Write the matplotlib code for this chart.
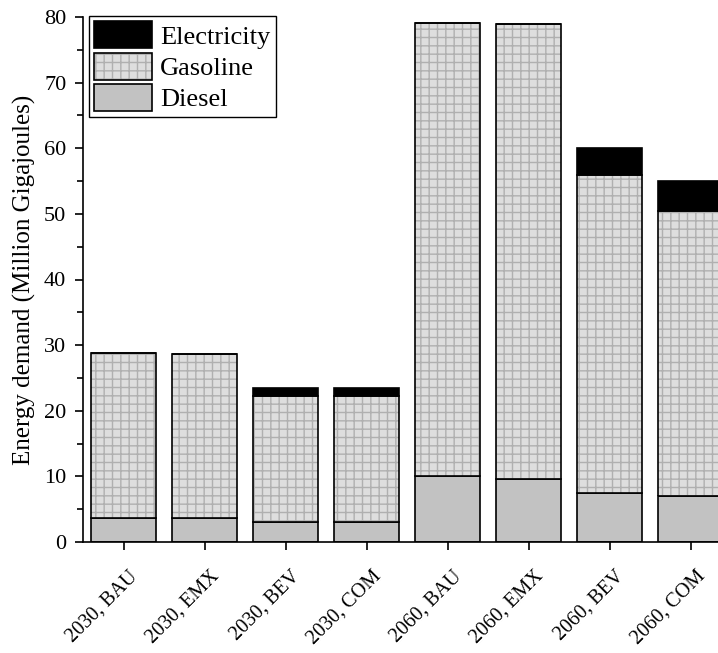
import matplotlib.pyplot as plt
import matplotlib.transforms as mtransforms
from matplotlib.patches import Patch
from matplotlib.legend_handler import HandlerTuple

plt.rcParams['font.family'] = ['Liberation Serif', 'DejaVu Serif']
plt.rcParams['hatch.linewidth'] = 1.0

# Datos (millones de GJ)
escenarios = ['2030, BAU', '2030, EMX', '2030, BEV', '2030, COM',
              '2060, BAU', '2060, EMX', '2060, BEV', '2060, COM']
diesel = [3.7, 3.6, 3.1, 3.1, 10.0, 9.65, 7.4, 7.0]
gasolina = [25.1, 25.1, 19.2, 19.2, 69.1, 69.25, 48.6, 43.4]
electricidad = [0.0, 0.0, 1.1, 1.1, 0.0, 0.0, 4.0, 4.6]

x = list(range(1, len(escenarios) + 1))
base_elec = [d + g for d, g in zip(diesel, gasolina)]

fig = plt.figure(figsize=(7.18, 6.53), dpi=100)
ax = fig.add_axes([83 / 718, 1 - 542 / 653, 648 / 718, 525 / 653])

ancho = 0.8
# Diesel
ax.bar(x, diesel, ancho, color='#c2c2c2', edgecolor='black', linewidth=1.2)
# Gasolina: relleno con trama gris y luego el contorno negro
ax.bar(x, gasolina, ancho, bottom=diesel, color='#dedede',
       edgecolor='#b0b0b0', hatch='++', linewidth=0)
ax.bar(x, gasolina, ancho, bottom=diesel, color='none',
       edgecolor='black', linewidth=1.2)
# Electricidad
ax.bar(x, electricidad, ancho, bottom=base_elec, color='black',
       edgecolor='black', linewidth=1.2)

ax.set_xlim(0.5, 8.5)
ax.set_ylim(0, 80)
ax.set_yticks(range(0, 81, 10))
ax.set_yticks(range(0, 81, 5), minor=True)
ax.set_xticks(x)
ax.set_xticklabels([])
# etiquetas giradas, desplazadas abajo a la derecha de cada marca
desplaza = mtransforms.ScaledTranslation(0.05, -0.25, fig.dpi_scale_trans)
for xi, nombre in zip(x, escenarios):
    ax.text(xi, 0, nombre, transform=ax.get_xaxis_transform() + desplaza,
            rotation=45, ha='right', va='top', rotation_mode='anchor',
            fontsize=14.5, clip_on=False)
ax.tick_params(axis='both', which='major', direction='out', length=6,
               width=1.2, labelsize=16)
ax.tick_params(axis='y', which='major', pad=6)
ax.tick_params(axis='y', which='minor', direction='out', length=4, width=1.2)
ax.spines['top'].set_visible(False)
ax.spines['right'].set_visible(False)
ax.spines['left'].set_linewidth(1.2)
ax.spines['bottom'].set_linewidth(1.2)
ax.set_ylabel('Energy demand (Million Gigajoules)', fontsize=18, labelpad=6)

# Leyenda
h_elec = Patch(facecolor='black', edgecolor='black', linewidth=1.2)
h_gas = (Patch(facecolor='#dedede', edgecolor='#b0b0b0', hatch='++', linewidth=0),
         Patch(facecolor='none', edgecolor='black', linewidth=1.2))
h_die = Patch(facecolor='#c2c2c2', edgecolor='black', linewidth=1.2)
leg = ax.legend([h_elec, h_gas, h_die], ['Electricity', 'Gasoline', 'Diesel'],
                handler_map={tuple: HandlerTuple(ndivide=1)},
                loc='upper left', bbox_to_anchor=(89 / 718, 1 - 16 / 653),
                bbox_transform=fig.transFigure, borderaxespad=0,
                fontsize=19, handlelength=2.2, handleheight=1.2,
                labelspacing=0.15, handletextpad=0.3, borderpad=0.2,
                fancybox=False, framealpha=1)
leg.get_frame().set_edgecolor('black')
leg.get_frame().set_linewidth(1.0)

plt.savefig('out.png', dpi=100)
